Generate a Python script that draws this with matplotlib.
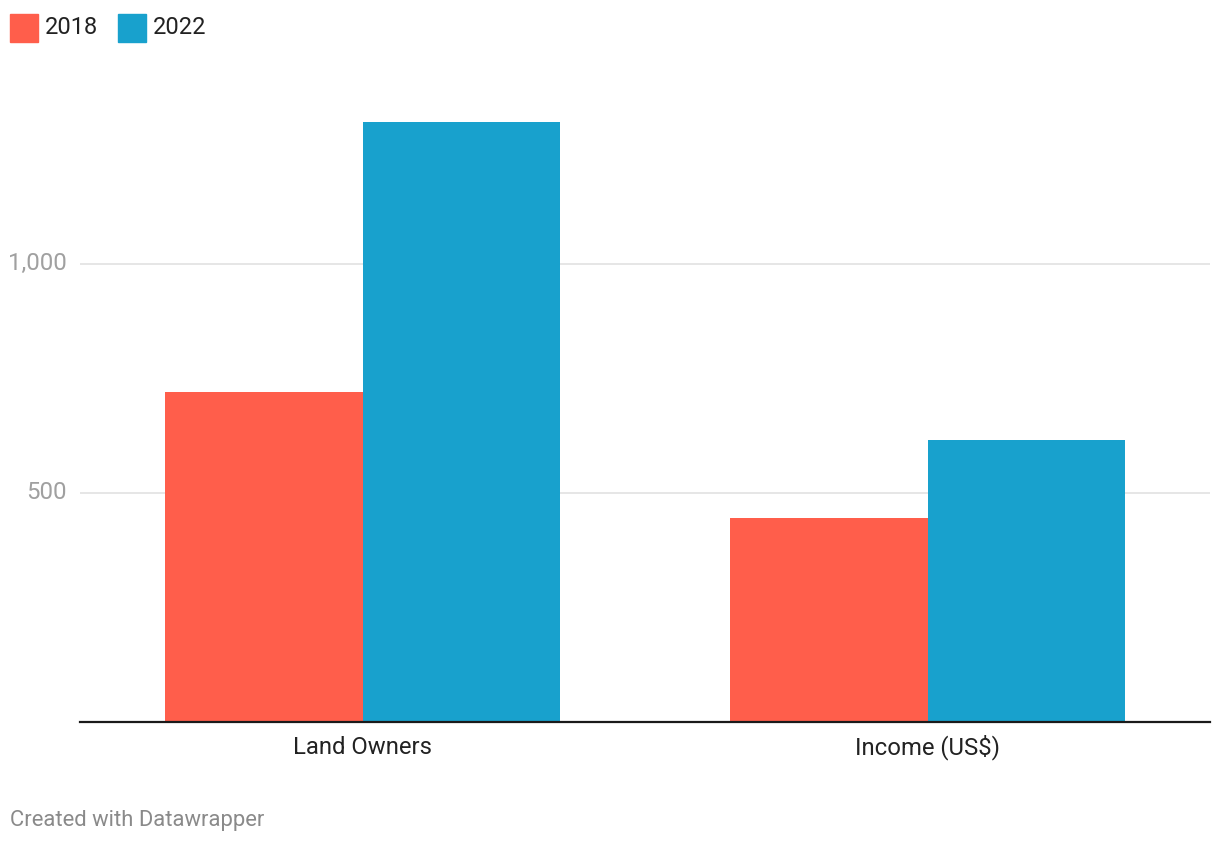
import matplotlib
matplotlib.use("Agg")
import matplotlib.pyplot as plt
from matplotlib.patches import Rectangle
import numpy as np

categories = ["Land Owners", "Income (US$)"]
series_names = ["2018", "2022"]
values_2018 = [719, 444]
values_2022 = [1309, 615]
yticks = [500, 1000]
ytick_labels = ["500", "1,000"]

colors = ["#ff5e4b", "#18a1cd"]

plt.rcParams['font.family'] = ['Roboto', 'DejaVu Sans']

W, H = 1220, 844
fig = plt.figure(figsize=(W / 100, H / 100), dpi=100)

# axes in pixel coordinates
left, right, bottom, top = 80, 1210, 721.5, 100
ax = fig.add_axes([left / W, 1 - bottom / H, (right - left) / W, (bottom - top) / H])

x = np.arange(len(categories))
bw = 0.349
ax.bar(x - bw / 2, values_2018, width=bw, color=colors[0], zorder=2)
ax.bar(x + bw / 2, values_2022, width=bw, color=colors[1], zorder=2)

ax.set_xlim(-0.5, 1.5)
ax.set_ylim(0, 1357)

for s in ["top", "right", "left"]:
    ax.spines[s].set_visible(False)
ax.spines["bottom"].set_color("#1a1a1a")
ax.spines["bottom"].set_linewidth(1.6)
ax.spines["bottom"].set_zorder(3)

ax.set_yticks(yticks)
ax.set_yticklabels(ytick_labels, va="center")
ax.yaxis.grid(True, color="#e6e6e6", linewidth=1.4, zorder=0)
ax.tick_params(axis="y", length=0, pad=9.4, labelsize=17.3, labelcolor="#a0a0a0")
ax.set_xticks(x)
ax.set_xticklabels(categories, va="baseline")
ax.tick_params(axis="x", length=0, pad=23.4, labelsize=17.2, labelcolor="#222222")

# legend
for i, (name, c) in enumerate(zip(series_names, colors)):
    x0 = 10 + i * 108
    fig.add_artist(Rectangle((x0 / W, 1 - 42 / H), 28 / W, 28 / H,
                             transform=fig.transFigure, color=c))
    fig.text((x0 + 35) / W, 1 - 34.5 / H, name, fontsize=17, color="#222222",
             va="baseline", ha="left")

fig.text(10 / W, 1 - 826 / H, "Created with Datawrapper", fontsize=15.8,
         color="#8a8a8a", va="baseline", ha="left")

fig.savefig("out.png", dpi=100, facecolor="white")
